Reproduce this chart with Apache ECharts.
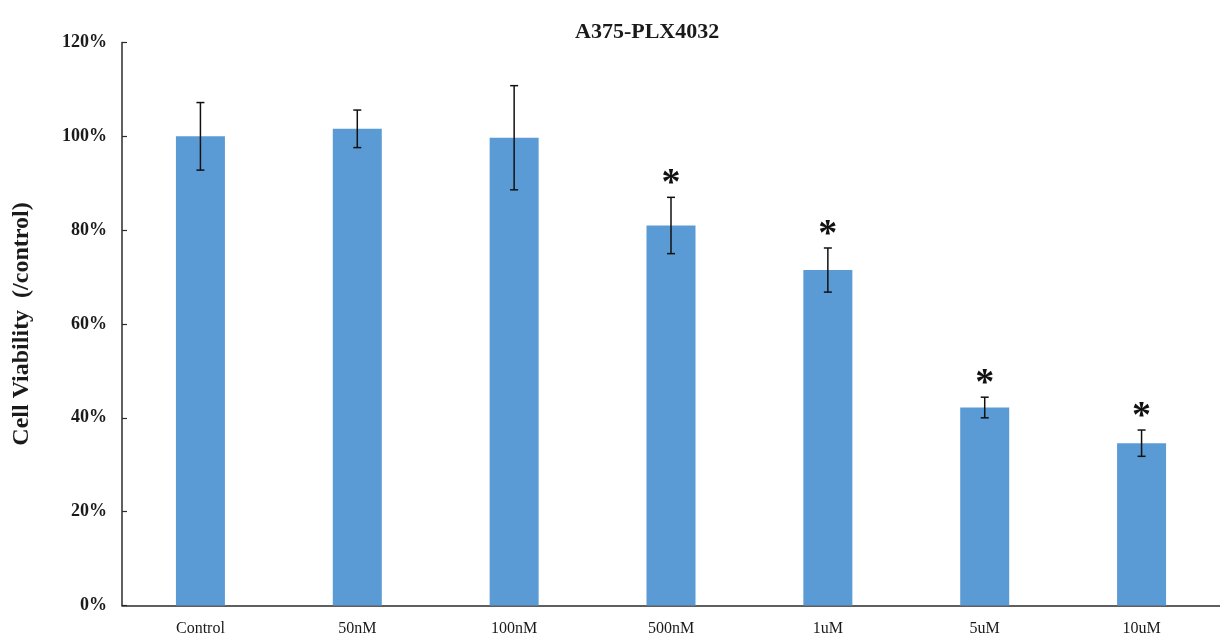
<!DOCTYPE html>
<html>
<head>
<meta charset="utf-8">
<title>A375-PLX4032</title>
<script src="https://cdn.jsdelivr.net/npm/echarts@6/dist/echarts.min.js"></script>
<style>
  html, body { margin: 0; padding: 0; background: #ffffff; }
  #chart { width: 1220px; height: 640px; }
</style>
</head>
<body>
<div id="chart"></div>
<script>
// Treatment groups
const categories = ['Control', '50nM', '100nM', '500nM', '1uM', '5uM', '10uM'];
// Mean cell viability relative to control (%)
const viability = [100.0, 101.6, 99.7, 81.0, 71.5, 42.2, 34.6];
// Error (± %)
const errors = [7.2, 4.0, 11.1, 6.0, 4.7, 2.2, 2.8];
// Significant difference vs. control
const significant = [false, false, false, true, true, true, true];
// Y axis ticks (%)
const yTicks = { min: 0, max: 120, interval: 20 };

const serif = "'Liberation Serif', 'Times New Roman', serif";
const ink = '#1a1a1a';

const errorData = categories.map((c, i) => [i, viability[i], errors[i], significant[i] ? 1 : 0]);

const chart = echarts.init(document.getElementById('chart'), null, { renderer: 'canvas' });

chart.setOption({
  backgroundColor: '#ffffff',
  animation: false,
  title: {
    text: 'A375-PLX4032',
    left: 570,
    top: 16,
    textStyle: { fontFamily: serif, fontSize: 22, fontWeight: 'bold', color: ink }
  },
  grid: { left: 122, right: -5, top: 42.5, bottom: 34.5, containLabel: false },
  xAxis: {
    type: 'category',
    data: categories,
    axisLine: { lineStyle: { color: '#2b2b2b', width: 1.5 } },
    axisTick: { show: false },
    axisLabel: { fontFamily: serif, fontSize: 16, color: ink, margin: 15 }
  },
  yAxis: {
    type: 'value',
    min: yTicks.min,
    max: yTicks.max,
    interval: yTicks.interval,
    name: 'Cell Viability  (/control)',
    nameLocation: 'middle',
    nameRotate: 90,
    nameGap: 88,
    nameTextStyle: { fontFamily: serif, fontSize: 24, fontWeight: 'bold', color: ink },
    axisLine: { show: true, lineStyle: { color: '#2b2b2b', width: 1.5 } },
    axisTick: { show: true, inside: true, length: 5, lineStyle: { color: '#2b2b2b', width: 1.2 } },
    splitLine: { show: false },
    axisLabel: {
      fontFamily: serif, fontSize: 18, fontWeight: 'bold', color: ink, margin: 15,
      formatter: v => v + '%'
    }
  },
  series: [
    {
      type: 'bar',
      data: viability,
      barWidth: 49,
      itemStyle: { color: '#5B9BD5' }
    },
    {
      type: 'custom',
      data: errorData,
      z: 10,
      renderItem: function (params, api) {
        const idx = api.value(0);
        const mean = api.value(1);
        const err = api.value(2);
        const sig = api.value(3);
        const top = api.coord([idx, mean + err]);
        const bot = api.coord([idx, mean - err]);
        const cap = 4;
        const style = { stroke: '#111111', lineWidth: 1.5 };
        const children = [
          { type: 'line', shape: { x1: top[0], y1: top[1], x2: bot[0], y2: bot[1] }, style },
          { type: 'line', shape: { x1: top[0] - cap, y1: top[1], x2: top[0] + cap, y2: top[1] }, style },
          { type: 'line', shape: { x1: bot[0] - cap, y1: bot[1], x2: bot[0] + cap, y2: bot[1] }, style }
        ];
        if (sig) {
          // significance marker above the error bar
          children.push({
            type: 'text',
            style: {
              text: '*',
              x: top[0],
              y: top[1] - 13,
              align: 'center',
              verticalAlign: 'middle',
              fontFamily: serif,
              fontSize: 38,
              fontWeight: 'bold',
              fill: '#111111'
            }
          });
        }
        return { type: 'group', children };
      }
    }
  ]
});
</script>
</body>
</html>
